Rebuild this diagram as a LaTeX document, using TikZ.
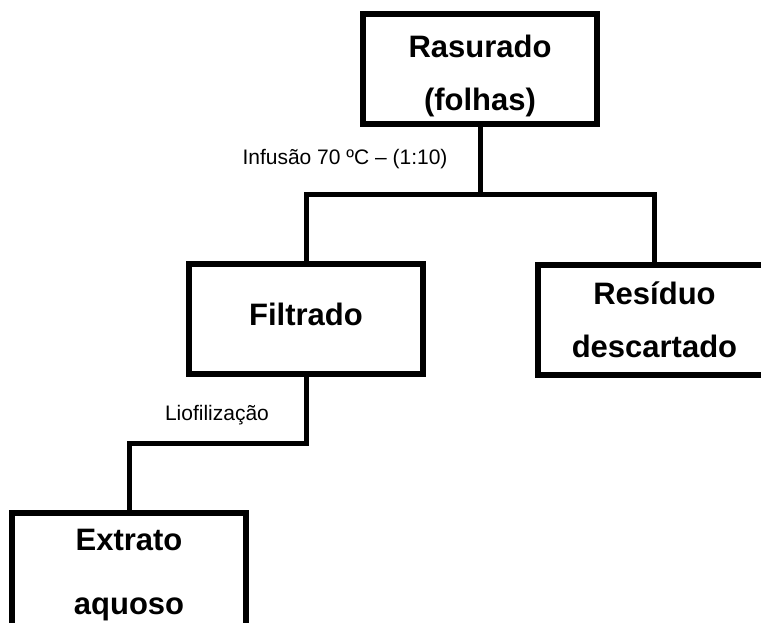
\documentclass[tikz,border=0pt]{standalone}
\usepackage{fontspec}
\setmainfont{Liberation Sans}
\begin{document}
\begin{tikzpicture}[x=1pt,y=-1pt,
  box/.style={draw=black,line width=6pt,fill=white,rectangle,inner sep=0pt,
    minimum width=234pt,minimum height=110pt,align=center,
    font=\fontsize{31}{53}\selectfont\bfseries},
  conn/.style={draw=black,line width=5pt,line join=miter},
  lbl/.style={font=\fontsize{21}{24}\selectfont,inner sep=0pt}]
\useasboundingbox (0,0) rectangle (761,623);
\clip (0,0) rectangle (761,623);
\node[box] (ras) at (480,69) {\rule{0pt}{36pt}Rasurado\\(folhas)};
\node[box] (fil) at (306,319) {Filtrado\rule[-9pt]{0pt}{0pt}};
\node[box] (res) at (654.5,320) {Resíduo\\descartado};
\node[box,minimum height=124pt] (ext) at (129,575) {Extrato\\[11pt]aquoso};
\coordinate (j1) at (480,195);
\coordinate (j2) at (306,443);
\draw[conn] (ras.south) -- (j1);
\draw[conn] (fil.north) |- (j1) -| (res.north);
\draw[conn] (fil.south) -- (j2) -| (ext.north);
\node[lbl] (inf) at (345,159) {Infusão 70 ºC – (1:10)};
\node[lbl] (lio) at (217,415) {Liofilização};
\end{tikzpicture}
\end{document}
